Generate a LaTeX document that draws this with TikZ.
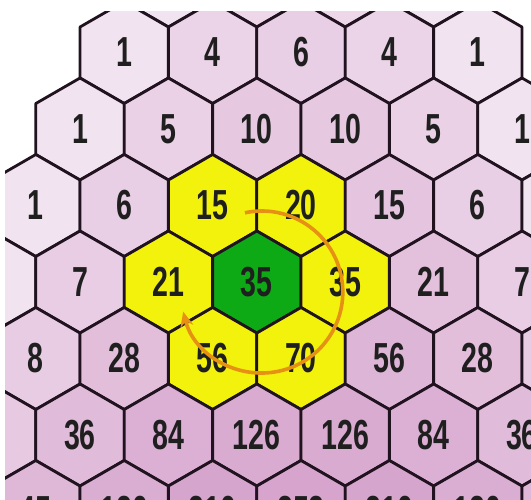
\documentclass[tikz,border=0pt]{standalone}
\usepackage{fontspec}
\newfontfamily\cellfont[FakeStretch=0.68]{Liberation Sans Bold}
\usetikzlibrary{arrows.meta,calc}

\definecolor{cellpink}{RGB}{185,100,170}
\definecolor{cellyellow}{RGB}{242,242,12}
\definecolor{cellgreen}{RGB}{14,170,22}
\definecolor{cellline}{RGB}{32,18,30}
\definecolor{orbitorange}{RGB}{230,145,20}

\begin{document}
\begin{tikzpicture}[
  x=1pt, y=-1pt,
  hexcell/.style={draw=cellline, line width=2.8pt, line join=round},
  num/.style={inner sep=0pt, text=black!88, font=\cellfont\fontsize{42}{42}\selectfont},
  orbit/.style={draw=orbitorange, line width=3.6pt, -{Stealth[length=15pt,width=13pt]}}
]

\useasboundingbox[fill=white] (0,0) rectangle (531,499);
\clip (5,11) rectangle (531,499);

% Pascal rows, row r holds C(r+3,k); green cell is C(7,3)
\foreach \r/\vals in {0/{1,3,3,1}, 1/{1,4,6,4,1}, 2/{1,5,10,10,5,1},
    3/{1,6,15,20,15,6,1}, 4/{1,7,21,35,35,21,7,1},
    5/{1,8,28,56,70,56,28,8,1}, 6/{1,9,36,84,126,126,84,36,9,1},
    7/{1,10,45,120,210,252,210,120,45,10,1}}{
  \pgfmathsetmacro\n{\r+3}
  \foreach \v [count=\k from 0] in \vals {
    \pgfmathsetmacro\cx{301+(\k-\n/2)*88.4}
    \pgfmathsetmacro\cy{52.5+(\r-1)*76.5}
    \pgfmathtruncatemacro\pct{18+7.5*ln(\v)}
    \pgfmathsetmacro\dist{veclen(\cx-256.8,\cy-281.5)}
    \pgfmathtruncatemacro\hl{\dist<1 ? 2 : (\dist<100 ? 1 : 0)}
    \ifcase\hl \colorlet{cellfill}{cellpink!\pct!white}
    \or \colorlet{cellfill}{cellyellow}
    \or \colorlet{cellfill}{cellgreen}\fi
    \draw[hexcell, fill=cellfill] (\cx,\cy) +(90:51) -- +(30:51) -- +(-30:51)
      -- +(-90:51) -- +(-150:51) -- +(150:51) -- cycle;
    \node[num] (c-\r-\k) at (\cx,\cy) {\ifnum\r>0 \v\fi};
  }
}

% neighbours summed round the centre cell
\coordinate (orbc) at ($(c-4-3)+(5,10)$);
\coordinate (orbstart) at ($(orbc)+(-102:81)$);
\draw[orbit] (orbstart) arc[start angle=-102, end angle=166, radius=81];

\end{tikzpicture}
\end{document}
